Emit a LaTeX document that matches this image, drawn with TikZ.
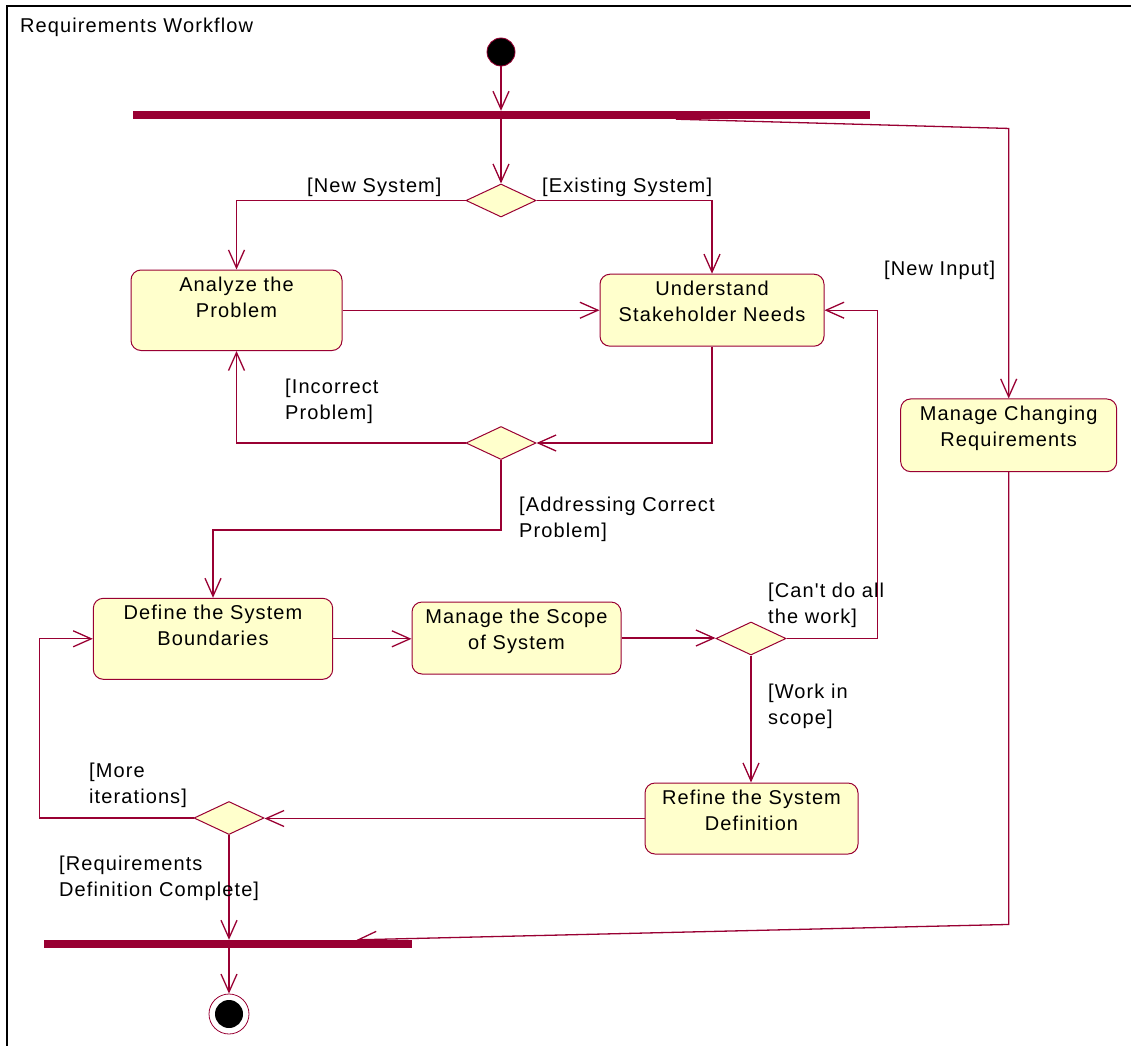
\documentclass[tikz,border=0pt]{standalone}
\usepackage{fontspec}
\setmainfont{Liberation Sans}[LetterSpace=5.5, Ligatures=TeXOff]
\usetikzlibrary{arrows.meta,shapes.geometric,calc}
\definecolor{crim}{HTML}{990033}
\definecolor{note}{HTML}{FFFFCC}
% activity text: top-aligned lines inside a box of given width/height (pt)
\newcommand{\acttext}[3]{\parbox[c][#2pt][t]{#1pt}{\centering\rule{0pt}{21.5pt}#3}}
% two-line guard, baseline on the first line
\newcommand{\twoline}[2]{\begin{tabular}[t]{@{}l@{}}#1\\#2\end{tabular}}
\begin{document}
\begin{tikzpicture}[x=1pt,y=-1pt,
  font=\fontsize{20}{26}\selectfont,
  flow/.style={draw=crim, line width=1.3pt, -{Straight Barb[length=18pt,width=16pt]}},
  act/.style={draw=crim, line width=1pt, fill=note, rounded corners=10pt, inner sep=0pt},
  choice/.style={diamond, draw=crim, line width=1pt, fill=note, inner sep=0pt,
    minimum width=70pt, minimum height=33pt},
  bar/.style={fill=crim, inner sep=0pt, minimum height=8pt},
  startstate/.style={circle, fill=black, draw=crim, line width=0.8pt, minimum size=28pt, inner sep=0pt},
  endstate/.style={circle, fill=white, draw=crim, line width=0.8pt, minimum size=40pt, inner sep=0pt,
    path picture={\fill[black] (path picture bounding box.center) circle (14pt);}},
  guard/.style={anchor=base west, inner sep=0pt}]
\useasboundingbox (0,0) rectangle (1131,1046);
% frame
\draw[line width=2pt] (1131,6) -- (7,6) -- (7,1046);
\node[anchor=base west, inner sep=0pt] (title) at (20,33) {Requirements Workflow};

% states and synchronisation bars
\node[startstate] (start) at (501,52) {};
\node[bar, minimum width=737pt] (fork) at (501.5,115) {};
\node[bar, minimum width=368pt] (join) at (228,944) {};
\node[endstate] (end) at (229,1014) {};

% activities
\node[act] (ana) at (236.5,310.25) {\acttext{211}{80.5}{Analyze the\\Problem}};
\node[act] (und) at (712,310.2) {\acttext{224}{72}{Understand\\Stakeholder Needs}};
\node[act] (def) at (213,638.8) {\acttext{239.4}{81}{Define the System\\Boundaries}};
\node[act] (msc) at (516.5,638) {\acttext{209}{72}{Manage the Scope\\of System}};
\node[act] (ref) at (751.5,818.5) {\acttext{213}{71}{Refine the System\\Definition}};
\node[act] (mcr) at (1008.7,435.3) {\acttext{216}{72.7}{Manage Changing\\Requirements}};

% decisions
\node[choice] (d1) at (501,200.5) {};
\node[choice] (d2) at (501,443) {};
\node[choice] (d3) at (751,638.5) {};
\node[choice] (d4) at (229,818) {};

\coordinate (forkout) at ($(fork.south west)+(543,0)$);
\coordinate (joinin) at ($(join.north west)+(313,0)$);

% transitions
\draw[flow] (start) -- (start |- fork.north);
\draw[flow] (d1 |- fork.south) -- (d1.north);
\draw[flow] (d1.west) -| (ana.north);
\draw[flow] (d1.east) -| (und.north);
\draw[flow] (ana.east) -- (ana.east -| und.west);
\draw[flow] (und.south) |- (d2.east);
\draw[flow] (d2.west) -| (ana.south);
\draw[flow] (d2.south) -- ++(0,70) -| (def.north);
\draw[flow] (def.east) -- (def.east -| msc.west);
\draw[flow] (msc.east) -- (msc.east -| d3.west);
\draw[flow] (d3.east) -- ++(91,0) |- (und.east);
\draw[flow] (d3.south) -- (d3.south |- ref.north);
\draw[flow] (ref.west) -- (ref.west -| d4.east);
\draw[flow] (d4.west) -- ++(-154,0) |- (def.west);
\draw[flow] (d4.south) -- (d4.south |- join.north);
\draw[flow] (join.south -| end) -- (end.north);
\draw[flow] (forkout) -- ([yshift=270pt]mcr.north) -- (mcr.north);
\draw[flow] (mcr.south) -- ([yshift=-452.3pt]mcr.south) -- (joinin);

% guards
\node[guard] (gnew) at (307,192) {[New System]};
\node[guard] (gexist) at (542,192) {[Existing System]};
\node[guard] (ginput) at (884,275) {[New Input]};
\node[guard] (gincorrect) at (285,393) {\twoline{[Incorrect}{Problem]}};
\node[guard] (gcorrect) at (519,511) {\twoline{[Addressing Correct}{Problem]}};
\node[guard] (gcant) at (768,597) {\twoline{[Can't do all}{the work]}};
\node[guard] (gscope) at (768,698) {\twoline{[Work in}{scope]}};
\node[guard] (gmore) at (89,777) {\twoline{[More}{iterations]}};
\node[guard] (gdone) at (59,870) {\twoline{[Requirements}{Definition Complete]}};
\end{tikzpicture}
\end{document}
